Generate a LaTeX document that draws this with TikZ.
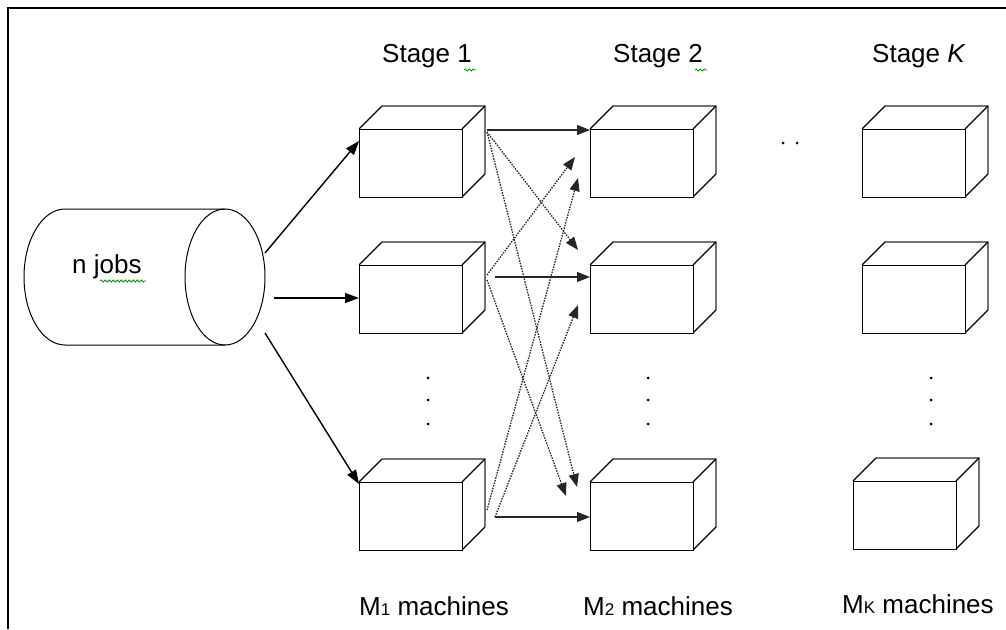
\documentclass[tikz,border=0pt]{standalone}
\usepackage{fontspec}
\setmainfont{Liberation Sans}
\usetikzlibrary{arrows.meta,decorations.pathmorphing}
\newcommand\machinebox[3]{%
  \fill[white] (#2,#3) -- ++(23,-23) -- ++(103,0) -- ++(0,68) -- ++(-23,23) -- ++(0,-68) -- cycle;
  \draw[backedge] (#2+23,#3-23) -- (#2+126,#3-23) -- (#2+126,#3+45);
  \draw[diag] (#2,#3) -- ++(23,-23) (#2+103,#3) -- ++(23,-23) (#2+103,#3+68) -- ++(23,-23);
  \node[face] (#1) at (#2,#3) {};
}
\begin{document}
\begin{tikzpicture}[x=1pt,y=-1pt,
  face/.style={draw=black,line width=1.4pt,fill=white,minimum width=103pt,minimum height=68pt,inner sep=0pt,anchor=north west},
  backedge/.style={draw=black!55,line width=2.4pt,line join=round},
  diag/.style={draw=black,line width=1.2pt},
  lab/.style={font=\fontsize{26}{30}\selectfont,inner sep=0pt,anchor=base west},
  feed/.style={line width=1.4pt,-{Triangle[length=14pt,width=10pt]}},
  link/.style={line width=1.1pt,draw=black!85,-{Triangle[length=13pt,width=10pt]}},
  dlink/.style={link,line width=1.3pt,dash pattern=on 1.5pt off 1.2pt},
  dot/.style={circle,fill=black,inner sep=0pt,minimum size=3pt},
  squig/.style={draw=green!60!black,line width=0.8pt,decorate,decoration={snake,amplitude=1pt,segment length=4pt}}
]
\useasboundingbox (0,0) rectangle (1006,629);
\draw[line width=2.6pt] (8,629) -- (8,8) -- (1006,8);

% cylinder
\draw[line width=1pt,fill=white] (225,209) -- (65,209) arc[start angle=270,end angle=90,x radius=41,y radius=68] -- (225,345);
\draw[line width=1pt] (225,277) ellipse[x radius=40,y radius=68];
\node[lab] (jobs) at (72,273) {n jobs};
\draw[squig] (100,281) -- (146,281);

% machines
\machinebox{s1a}{359}{129}
\machinebox{s1b}{359}{265}
\machinebox{s1c}{359}{482}
\machinebox{s2a}{590}{129}
\machinebox{s2b}{590}{265}
\machinebox{s2c}{590}{482}
\machinebox{ska}{862}{129}
\machinebox{skb}{862}{265}
\machinebox{skc}{853}{481}

% feed arrows
\coordinate (c1) at (265,253);
\coordinate (c2) at (274,298);
\coordinate (c3) at (265,333);
\coordinate (f1) at (359,141);
\coordinate (f2) at (359,298);
\coordinate (f3) at (359,484);
\draw[feed] (c1) -- (f1);
\draw[feed] (c2) -- (f2);
\draw[feed] (c3) -- (f3);

% stage links
\coordinate (a1) at (487,130);
\coordinate (a2) at (487,132);
\coordinate (b1) at (487,275);
\coordinate (b2) at (495,277);
\coordinate (b3) at (487,280);
\coordinate (d1) at (487,510);
\coordinate (d2) at (495,517);
\coordinate (t1) at (590,130);
\coordinate (t2) at (575,157);
\coordinate (t3) at (578,178);
\coordinate (t4) at (578,250);
\coordinate (t5) at (590,277);
\coordinate (t6) at (578,305);
\coordinate (t7) at (577,487);
\coordinate (t8) at (566,496);
\coordinate (t9) at (590,517);
\draw[link] (a1) -- (t1);
\draw[dlink] (a2) -- (t4);
\draw[dlink] (a2) -- (t7);
\draw[dlink] (b1) -- (t2);
\draw[link] (b2) -- (t5);
\draw[dlink] (b3) -- (t8);
\draw[dlink] (d1) -- (t3);
\draw[dlink] (d2) -- (t6);
\draw[link] (d2) -- (t9);

% dots
\foreach \yy [count=\i] in {378,400,424}{
  \node[dot] (va\i) at (428,\yy) {};
  \node[dot] (vb\i) at (648,\yy) {};
  \node[dot] (vk\i) at (931,\yy) {};
}
\node[dot] (h1) at (783,143) {};
\node[dot] (h2) at (797,143) {};

% labels
\node[lab] (st1) at (382,62) {Stage 1};
\draw[squig] (464,70) -- (476,70);
\node[lab] (st2) at (613,62) {Stage 2};
\draw[squig] (695,70) -- (707,70);
\node[lab] (stk) at (872,62) {Stage \textit{K}};
\node[lab] (m1) at (359,615) {M{\fontsize{17}{17}\selectfont 1} machines};
\node[lab] (m2) at (583,615) {M{\fontsize{17}{17}\selectfont 2} machines};
\node[lab] (mk) at (842,613) {M{\fontsize{17}{17}\selectfont K} machines};
\end{tikzpicture}
\end{document}
